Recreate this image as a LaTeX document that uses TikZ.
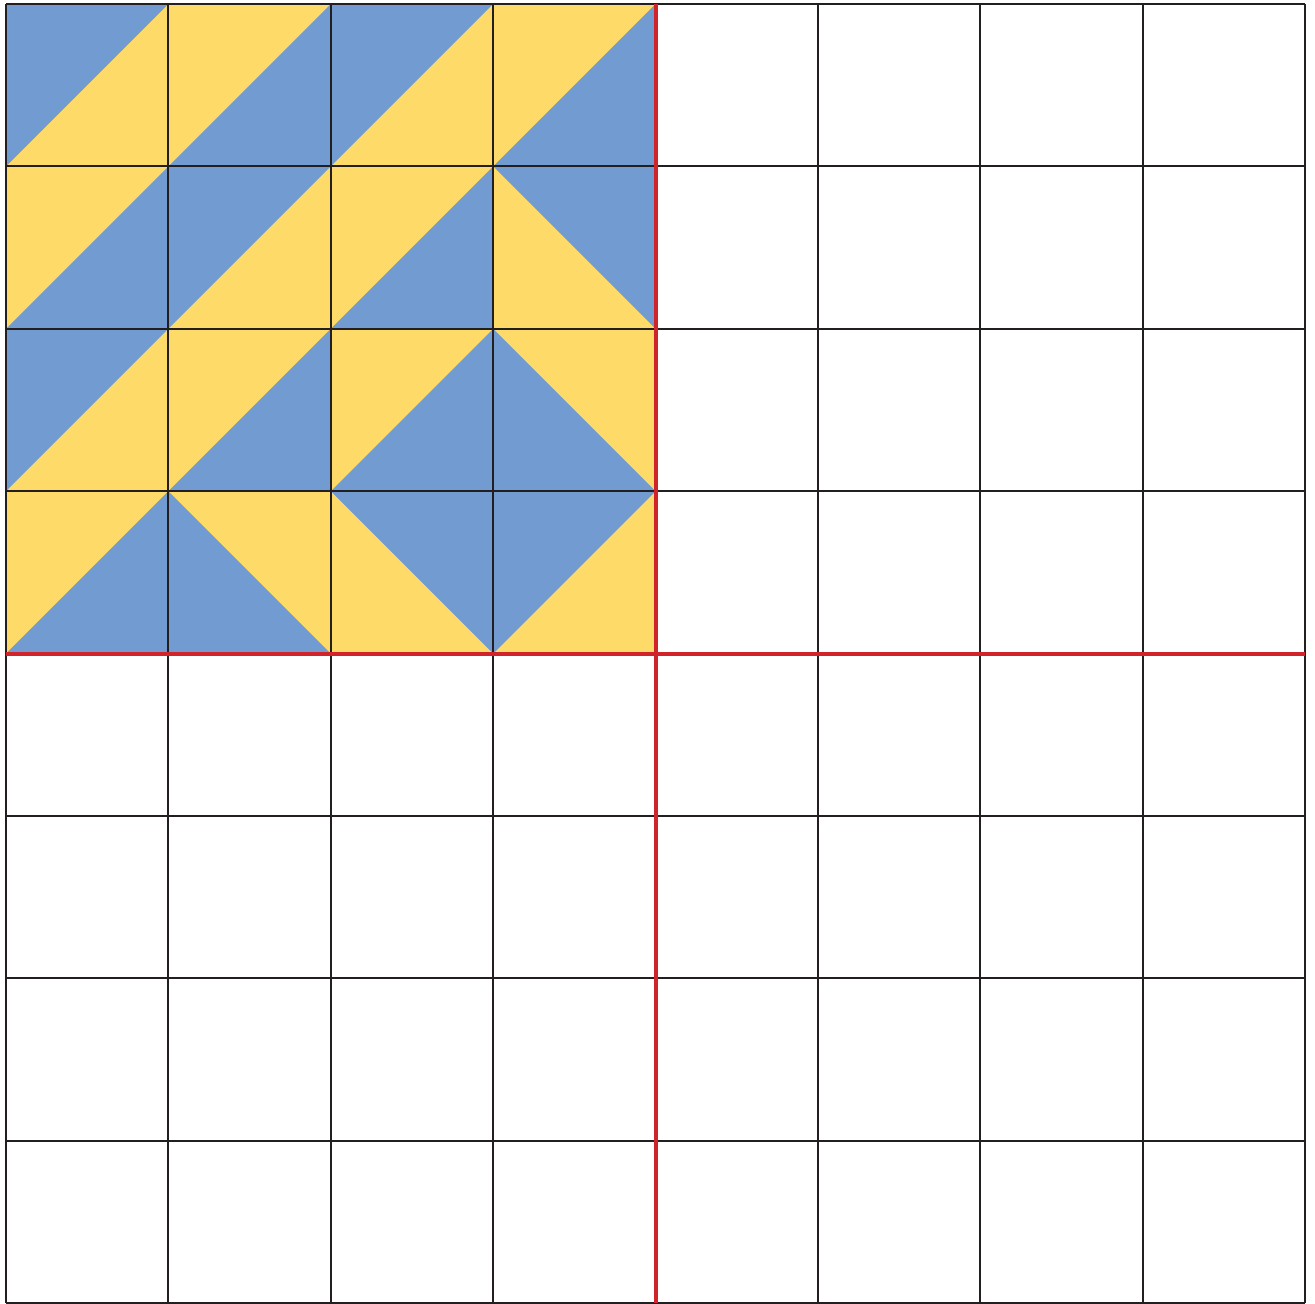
\documentclass[tikz,border=0pt]{standalone}
\definecolor{tileblue}{HTML}{729CD1}
\definecolor{tileyellow}{HTML}{FEDB69}
\definecolor{gridred}{HTML}{D0232A}
\definecolor{gridblack}{HTML}{231F20}
\tikzset{
  gridline/.style={draw=gridblack, line width=2pt},
  redline/.style={draw=gridred, line width=3.8pt},
}
\begin{document}
\begin{tikzpicture}
\useasboundingbox (0,0) rectangle (1315pt,-1304pt);
\begin{scope}[shift={(6pt,-4pt)}, x=162.4pt, y=-162.4pt]
  % yellow background of the patterned quarter
  \fill[tileyellow] (0,0) rectangle (4,4);
  % blue triangles: column/row/right-angle corner (a,b)
  \foreach \c/\r/\a/\b in {
    0/0/0/0, 1/0/1/1, 2/0/0/0, 3/0/1/1,
    0/1/1/1, 1/1/0/0, 2/1/1/1, 3/1/1/0,
    0/2/0/0, 1/2/1/1, 2/2/1/1, 3/2/0/1,
    0/3/1/1, 1/3/0/1, 2/3/1/0, 3/3/0/0}
    \fill[tileblue] ({\c+\a},{\r+\b}) -- ({\c+1-\a},{\r+\b}) -- ({\c+\a},{\r+1-\b}) -- cycle;
  % grid
  \foreach \i in {0,...,8} {
    \draw[gridline] (\i,0) -- (\i,8);
    \draw[gridline] (0,\i) -- (8,\i);
  }
  % red axes
  \draw[redline] (4,0) -- (4,8);
  \draw[redline] (0,4) -- (8,4);
\end{scope}
\end{tikzpicture}
\end{document}
